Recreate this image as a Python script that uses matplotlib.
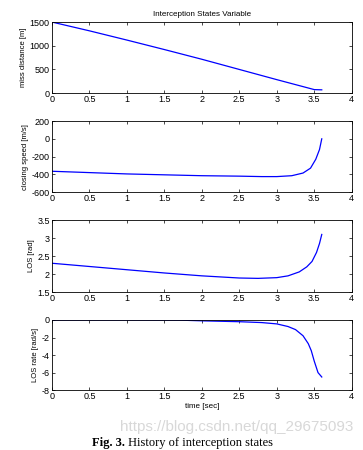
import numpy as np
import matplotlib.pyplot as plt

# time samples [sec]
t_miss = [0, 0.5, 1.0, 1.5, 2.0, 2.5, 3.0, 3.5, 3.6]
miss = [1500, 1315, 1120, 920, 715, 500, 285, 75, 70]

t_speed = [0, 0.5, 1.0, 1.5, 2.0, 2.5, 2.8, 3.0, 3.2, 3.35, 3.45, 3.52, 3.57, 3.6]
speed = [-365, -380, -395, -405, -415, -420, -425, -425, -415, -385, -330, -230, -120, 0]

t_los = [0, 0.5, 1.0, 1.5, 2.0, 2.5, 2.75, 3.0, 3.15, 3.3, 3.4, 3.47, 3.53, 3.57, 3.6]
los = [2.3, 2.21, 2.12, 2.03, 1.95, 1.89, 1.88, 1.9, 1.95, 2.06, 2.2, 2.35, 2.6, 2.85, 3.1]

t_rate = [0, 1.0, 1.7, 2.0, 2.5, 2.8, 3.0, 3.15, 3.25, 3.35, 3.42, 3.46, 3.5, 3.55, 3.6]
rate = [0, 0, -0.02, -0.1, -0.2, -0.3, -0.45, -0.75, -1.1, -1.8, -2.7, -3.5, -4.7, -6.0, -6.5]

xticks = [0, 0.5, 1, 1.5, 2, 2.5, 3, 3.5, 4]
xticklabels = ['0', '0.5', '1', '1.5', '2', '2.5', '3', '3.5', '4']

panels = [
    (t_miss, miss, 'miss distance [m]', [0, 500, 1000, 1500], ['0', '500', '1000', '1500'], (0, 1500)),
    (t_speed, speed, 'closing speed [m/s]', [-600, -400, -200, 0, 200],
     ['-600', '-400', '-200', '0', '200'], (-600, 200)),
    (t_los, los, 'LOS [rad]', [1.5, 2, 2.5, 3, 3.5], ['1.5', '2', '2.5', '3', '3.5'], (1.5, 3.5)),
    (t_rate, rate, 'LOS rate [rad/s]', [-8, -6, -4, -2, 0], ['-8', '-6', '-4', '-2', '0'], (-8, 0)),
]

plt.rcParams['font.family'] = ['Liberation Sans', 'DejaVu Sans']

fig = plt.figure(figsize=(3.63, 4.50), dpi=100)
bottoms = [0.793, 0.573, 0.351, 0.133]
heights = [0.158, 0.158, 0.160, 0.156]

for i, (tx, y, label, yt, ytl, ylim) in enumerate(panels):
    ax = fig.add_axes([0.143, bottoms[i], 0.826, heights[i]])
    ax.plot(tx, y, color='blue', lw=0.9)
    ax.set_xlim(0, 4)
    ax.set_ylim(*ylim)
    ax.set_xticks(xticks)
    ax.set_xticklabels(xticklabels)
    ax.set_yticks(yt)
    ax.set_yticklabels(ytl)
    ax.tick_params(direction='in', top=True, right=True, labelsize=6.5, length=2.5,
                   width=0.5, pad=1.5)
    ax.set_ylabel(label, fontsize=5.5, labelpad=2)
    for s in ax.spines.values():
        s.set_linewidth(0.6)
    if i == 0:
        ax.set_title('Interception States Variable', fontsize=5.8, pad=4)
    if i == 3:
        ax.set_xlabel('time [sec]', fontsize=5.8, labelpad=1.5)

fig.text(0.973, 0.051, 'https://blog.csdn.net/qq_29675093', color='#d8d8d8',
         fontsize=11, ha='right', va='center')

cap = fig.text(0.253, 0.008, 'Fig. 3.', family='Liberation Serif', weight='bold',
               fontsize=9, ha='left', va='baseline')
plt.annotate(' History of interception states', xy=(1, 0), xycoords=cap,
             family='Liberation Serif', fontsize=9, ha='left', va='bottom')

fig.savefig('out.png', dpi=100)
